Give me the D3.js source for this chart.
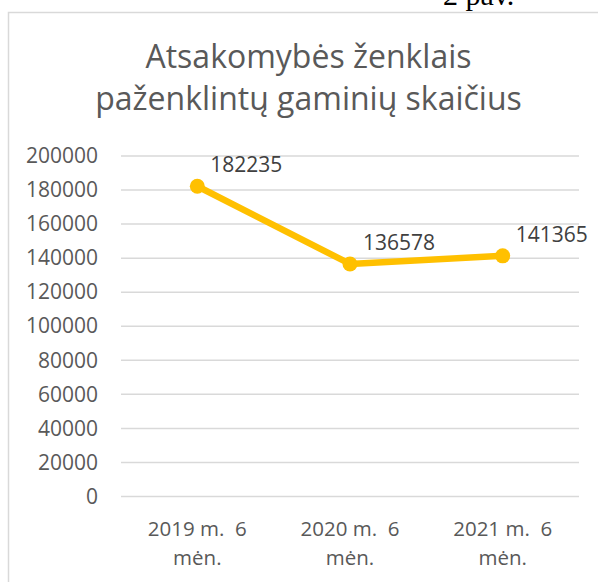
<!DOCTYPE html>
<html><head><meta charset="utf-8">
<script src="https://cdn.jsdelivr.net/npm/d3@7"></script>
<style>html,body{margin:0;padding:0;background:#fff;}svg{display:block;}</style>
</head><body>
<script>
const categories = [["2019 m.  6", "mėn."], ["2020 m.  6", "mėn."], ["2021 m.  6", "mėn."]];
const values = [182235, 136578, 141365];
const yTicks = [0, 20000, 40000, 60000, 80000, 100000, 120000, 140000, 160000, 180000, 200000];
const titleLines = ["Atsakomybės ženklais", "paženklintų gaminių skaičius"];
const caption = "2 pav.";

const W = 598, H = 582;
const font = "'Open Sans', sans-serif";
const svg = d3.select("body").append("svg").attr("width", W).attr("height", H);

// caption above chart frame
svg.append("text").attr("x", 443).attr("y", 5).attr("font-family", "'Liberation Serif', serif")
  .attr("font-size", 30).attr("fill", "#000").text(caption);

// chart frame
svg.append("rect").attr("x", 8.5).attr("y", 12.5).attr("width", 620).attr("height", 620)
  .attr("fill", "#fff").attr("stroke", "#d9d9d9").attr("stroke-width", 1.5);

// title
const title = svg.append("text").attr("text-anchor", "middle").attr("font-family", font)
  .attr("font-size", 32).attr("fill", "#595959");
titleLines.forEach((t, i) => title.append("tspan").attr("x", 308.5).attr("y", 68 + i * 42).text(t));

const x = d3.scalePoint().domain(categories.map((d, i) => i)).range([121, 579]).padding(0.5);
const y = d3.scaleLinear().domain([0, 200000]).range([496.5, 156]);

// gridlines
svg.append("g").selectAll("line").data(yTicks).join("line")
  .attr("x1", 121).attr("x2", 579).attr("y1", d => y(d)).attr("y2", d => y(d))
  .attr("stroke", "#d9d9d9").attr("stroke-width", 1.5);

// y axis labels
const yAxis = d3.axisLeft(y).tickValues(yTicks).tickSize(0).tickPadding(0).tickFormat(d3.format("d"));
const gy = svg.append("g").attr("transform", "translate(98,0)").call(yAxis);
gy.select(".domain").remove();
gy.selectAll("text").attr("font-family", font).attr("font-size", 21).attr("fill", "#595959");

// x axis labels
const gx = svg.append("g");
categories.forEach((c, i) => {
  const t = gx.append("text").attr("text-anchor", "middle").attr("font-family", font)
    .attr("font-size", 20.5).attr("fill", "#595959").attr("xml:space", "preserve");
  c.forEach((line, j) => t.append("tspan").attr("x", x(i)).attr("y", 536 + j * 29).text(line));
});

// line
const line = d3.line().x((d, i) => x(i)).y(d => y(d));
svg.append("path").datum(values).attr("d", line).attr("fill", "none")
  .attr("stroke", "#FFC000").attr("stroke-width", 6.5).attr("stroke-linejoin", "round");
svg.append("g").selectAll("circle").data(values).join("circle")
  .attr("cx", (d, i) => x(i)).attr("cy", d => y(d)).attr("r", 7.5).attr("fill", "#FFC000");

// data labels
svg.append("g").selectAll("text").data(values).join("text")
  .attr("x", (d, i) => x(i) + 13).attr("y", d => y(d) - 21.5).attr("dy", "0.35em")
  .attr("font-family", font).attr("font-size", 21).attr("fill", "#404040").text(d => d);
</script>
</body></html>
